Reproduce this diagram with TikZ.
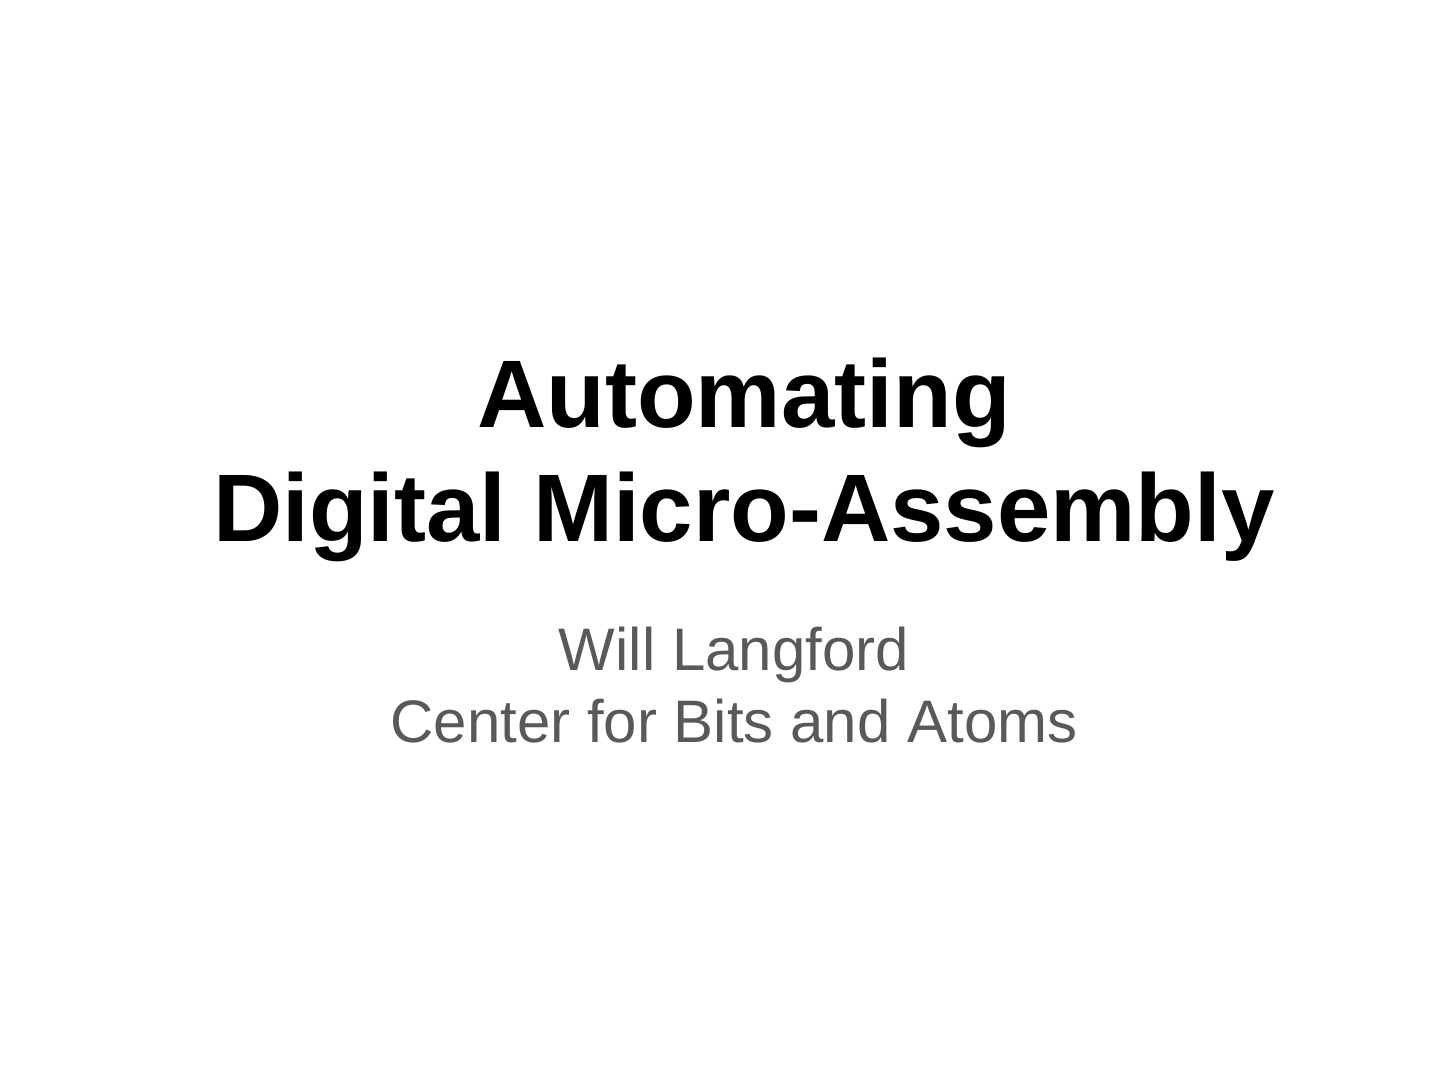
\documentclass[tikz,border=0pt]{standalone}
\usepackage{fontspec}
\setmainfont{Liberation Sans}
\definecolor{subgray}{HTML}{595959}
\begin{document}
\begin{tikzpicture}[x=1pt,y=1pt,
  titletext/.style={anchor=base,inner sep=0pt,font=\fontsize{48}{56}\selectfont\bfseries,text=black},
  subtext/.style={anchor=base,inner sep=0pt,font=\fontsize{30}{36}\selectfont,text=subgray}]
\useasboundingbox[fill=white] (0,0) rectangle (720,540);
\node[titletext] (t1) at (372,326) {Automating};
\node[titletext] (t2) at (372,269) {Digital Micro-Assembly};
\node[subtext] (s1) at (367,204.5) {Will Langford};
\node[subtext] (s2) at (367,168.5) {Center for Bits and Atoms};
\end{tikzpicture}
\end{document}
